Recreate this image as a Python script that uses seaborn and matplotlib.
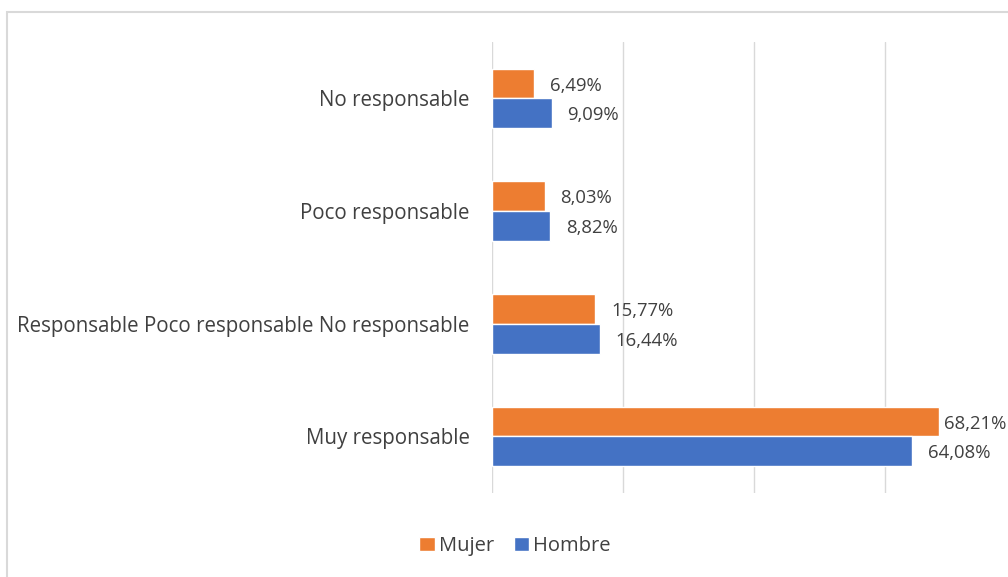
import pandas as pd
import matplotlib.pyplot as plt
import seaborn as sns
from matplotlib.patches import Rectangle

categorias = ["No responsable", "Poco responsable",
              "Responsable Poco responsable No responsable", "Muy responsable"]
mujer = [6.49, 8.03, 15.77, 68.21]
hombre = [9.09, 8.82, 16.44, 64.08]
series = ["Mujer", "Hombre"]
colores = {"Mujer": "#ED7D31", "Hombre": "#4472C4"}

df = pd.DataFrame({
    "Categoria": categorias * 2,
    "Valor": mujer + hombre,
    "Sexo": ["Mujer"] * len(categorias) + ["Hombre"] * len(categorias),
})

sns.set_style("white")
plt.rcParams["font.family"] = ["Open Sans", "DejaVu Sans"]
txt = "#404040"

fig = plt.figure(figsize=(10.08, 5.77), dpi=100)
ax = fig.add_axes([0.488, 0.146, 0.512, 0.781])

sns.barplot(data=df, x="Valor", y="Categoria", hue="Sexo", hue_order=series,
            order=categorias, palette=colores, orient="h", width=0.53,
            saturation=1, ax=ax, legend=True)

xmax = 78.7
for cont in ax.containers:
    etiquetas = ax.bar_label(cont, labels=[f"{v:.2f}".replace(".", ",") + "%" for v in cont.datavalues],
                             padding=11.5, fontsize=13.3, color=txt)
    # la etiqueta que no cabe se acerca a la barra, como en Excel
    for t, v in zip(etiquetas, cont.datavalues):
        if v > xmax - 12:
            t.xyann = (3.5, -1.5)
        else:
            t.xyann = (11.5, -1.5)

ax.set_xlim(0, xmax)
ax.set_ylim(3.5, -0.5)
ax.set_xticks([0, 20, 40, 60])
ax.xaxis.grid(True, color="#d9d9d9", lw=1)
ax.tick_params(axis="x", labelbottom=False, length=0)
ax.tick_params(axis="y", length=0, labelsize=14.8, labelcolor=txt, pad=16)
ax.set_xlabel("")
ax.set_ylabel("")
for s in ax.spines.values():
    s.set_visible(False)

ax.legend(loc="center", bbox_to_anchor=(515 / 1008, 1 - 546 / 577),
          bbox_transform=fig.transFigure, ncol=2, frameon=False,
          fontsize=14.5, labelcolor=txt, handlelength=0.75, handleheight=0.75,
          handletextpad=0.2, columnspacing=1.0)

fig.patches.append(Rectangle((7 / 1008, -0.05), 1.1, 1 - 12 / 577 + 0.05,
                             transform=fig.transFigure, fill=False,
                             edgecolor="#d9d9d9", lw=1.5, zorder=0))

fig.savefig("out.png", dpi=100)
